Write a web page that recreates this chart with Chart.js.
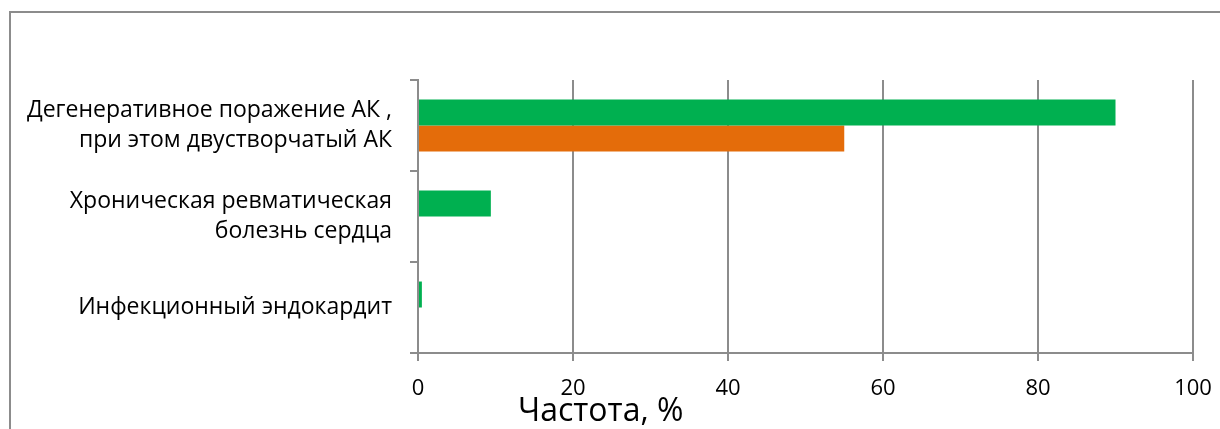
<!DOCTYPE html>
<html>
<head>
<meta charset="utf-8">
<title>Частота</title>
<script src="https://cdn.jsdelivr.net/npm/chart.js@4/dist/chart.umd.min.js"></script>
<style>
  html, body { margin: 0; padding: 0; background: #fff; overflow: hidden; }
  #frame {
    position: absolute; left: 9px; top: 11px;
    width: 1240px; height: 440px;
    border: 2px solid #8c8c8c;
  }
  #wrap { position: absolute; left: 0; top: 0; width: 1220px; height: 429px; }
</style>
</head>
<body>
<div id="frame"></div>
<div id="wrap"><canvas id="chart" width="1220" height="429"></canvas></div>
<script>
const categories = [
  ['Дегенеративное поражение АК ,', 'при этом двустворчатый АК'],
  ['Хроническая ревматическая', 'болезнь сердца'],
  'Инфекционный эндокардит'
];
const greenValues = [90, 9.4, 0.5];
const orangeValues = [55, 0, 0];
const xTicks = [0, 20, 40, 60, 80, 100];
const axisTitle = 'Частота, %';

const FONT = '"Open Sans", "Noto Sans", sans-serif';
const GRID = '#8c8c8c';

// axis title sits left of centre, so it is drawn by hand
const axisTitlePlugin = {
  id: 'axisTitle',
  afterDraw(chart) {
    const ctx = chart.ctx;
    ctx.save();
    ctx.font = '32px ' + FONT;
    ctx.fillStyle = '#000';
    ctx.textAlign = 'left';
    ctx.textBaseline = 'middle';
    ctx.fillText(axisTitle, chart.chartArea.left + 100, 412);
    ctx.restore();
  }
};

function mainChart() {
  const canvas = document.getElementById('chart');
  new Chart(canvas, {
    type: 'bar',
    data: {
      labels: categories,
      datasets: [
        { label: 'A', data: greenValues, backgroundColor: '#00b050', borderWidth: 0 },
        { label: 'B', data: orangeValues, backgroundColor: '#e46c0a', borderWidth: 0 }
      ]
    },
    options: {
      indexAxis: 'y',
      responsive: false,
      animation: false,
      categoryPercentage: 0.571,
      barPercentage: 1,
      layout: { padding: { top: 80, right: 27, left: 0, bottom: 0 } },
      plugins: {
        legend: { display: false },
        tooltip: { enabled: false }
      },
      scales: {
        x: {
          min: 0,
          max: 100,
          afterFit(scale) {
            scale.height = 76;
            scale.paddingLeft = 0;
            scale.paddingRight = 0;
          },
          afterBuildTicks(scale) { scale.ticks = xTicks.map(v => ({ value: v })); },
          grid: { color: GRID, lineWidth: 2, tickLength: 8, drawTicks: true },
          border: { color: GRID, width: 2 },
          ticks: {
            color: '#000',
            padding: 15,
            font: { family: FONT, size: 22 }
          }
        },
        y: {
          afterFit(scale) { scale.width = 418; },
          grid: { offset: true, drawOnChartArea: false, drawTicks: true, tickLength: 8, color: GRID, lineWidth: 2 },
          border: { color: GRID, width: 2 },
          ticks: {
            color: '#000',
            padding: 18,
            font: { family: FONT, size: 23, lineHeight: 1.3 }
          }
        }
      }
    },
    plugins: [axisTitlePlugin]
  });
}

document.addEventListener('DOMContentLoaded', () => mainChart());
</script>
</body>
</html>
